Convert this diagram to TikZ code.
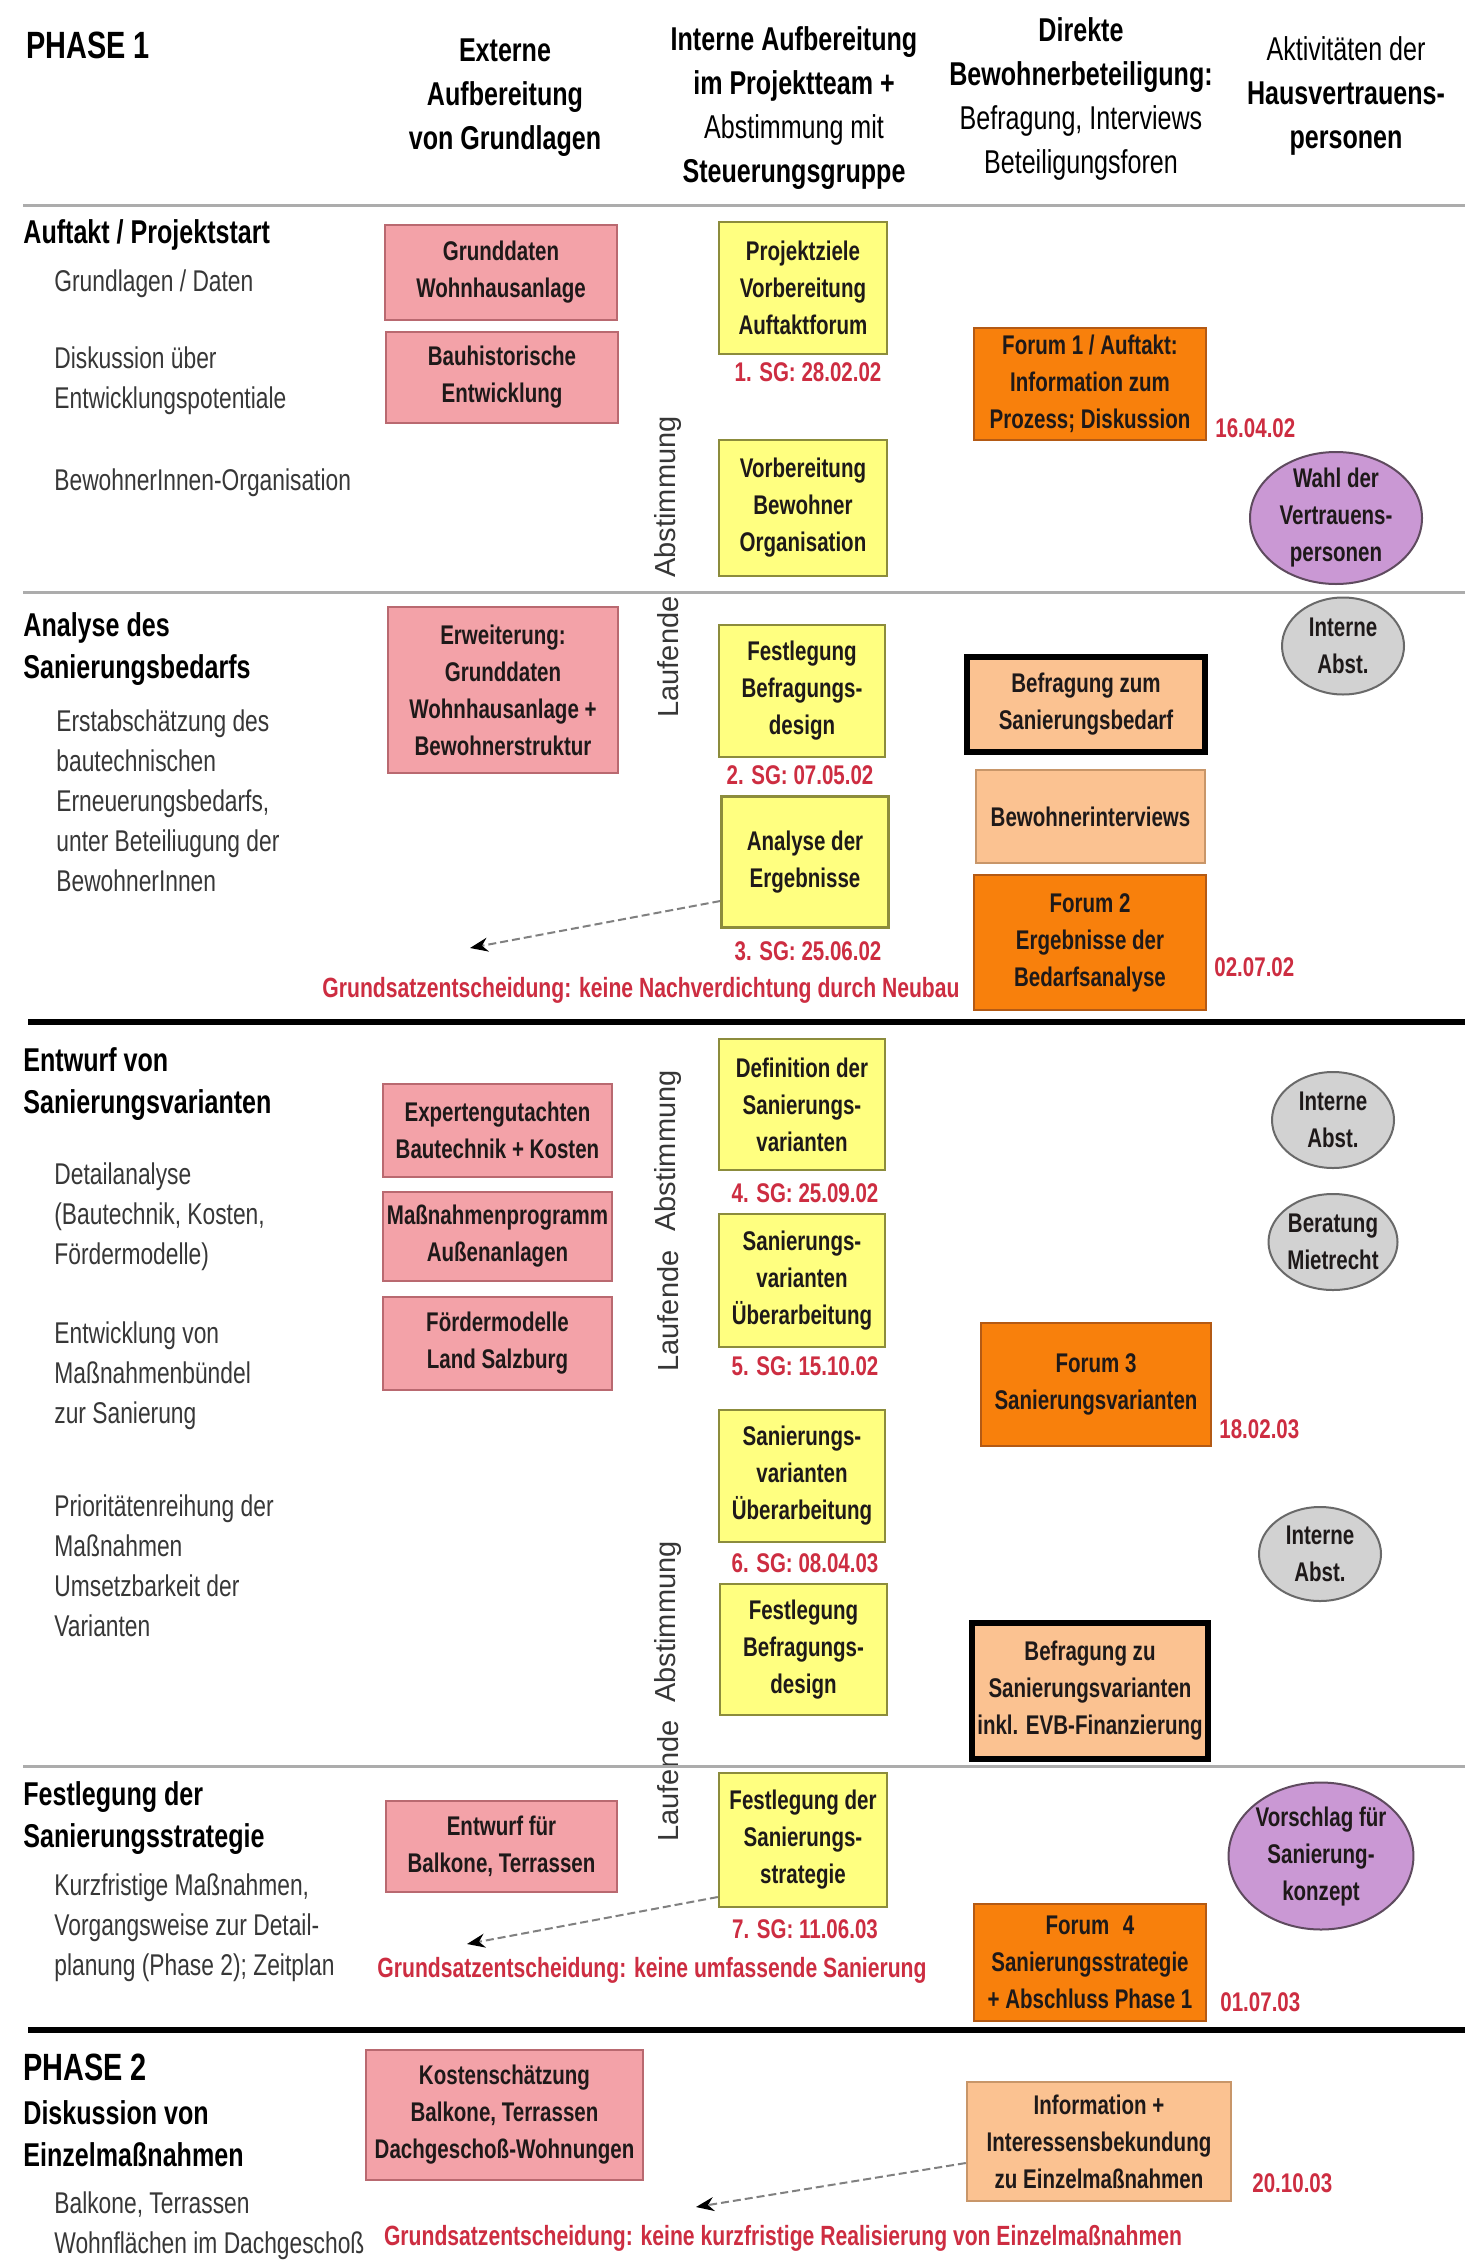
\documentclass[tikz,border=0pt]{standalone}
\usepackage{fontspec}
\setmainfont[FakeStretch=0.76]{Liberation Sans}
\newfontfamily\plainsans{Liberation Sans}
\usetikzlibrary{shapes.geometric,arrows.meta}
\definecolor{pinkf}{RGB}{243,162,168}
\definecolor{pinkd}{RGB}{185,105,112}
\definecolor{yelf}{RGB}{255,255,128}
\definecolor{yeld}{RGB}{140,140,60}
\definecolor{orf}{RGB}{248,128,12}
\definecolor{ord}{RGB}{180,90,20}
\definecolor{peachf}{RGB}{251,194,145}
\definecolor{peachd}{RGB}{200,150,105}
\definecolor{purpf}{RGB}{202,152,212}
\definecolor{purpd}{RGB}{95,75,95}
\definecolor{grayf}{RGB}{210,210,210}
\definecolor{grayd}{RGB}{105,105,105}
\definecolor{redc}{RGB}{205,45,65}
\definecolor{descc}{RGB}{55,55,55}
\definecolor{txtc}{RGB}{30,25,25}
\newcommand\boxfont{\bfseries\fontsize{13.5}{18.5}\selectfont}
\newcommand\decfont{\bfseries\fontsize{13.9}{18.5}\selectfont}
\newcommand\secfont{\bfseries\fontsize{16.5}{21}\selectfont}
\newcommand\descfont{\fontsize{15}{20}\selectfont}
\newcommand\hdrfont{\bfseries\fontsize{16.5}{22}\selectfont}
\newcommand\vertfont{\plainsans\fontsize{14.5}{17}\selectfont}
\tikzset{
  bx/.style={rectangle, inner sep=0pt, align=center, font=\boxfont, text=txtc},
  pinkb/.style={bx, fill=pinkf, draw=pinkd, line width=1.2pt},
  yelb/.style={bx, fill=yelf, draw=yeld, line width=1.2pt},
  orb/.style={bx, fill=orf, draw=ord, line width=1.2pt},
  peachb/.style={bx, fill=peachf, draw=peachd, line width=1.2pt},
  thickb/.style={bx, fill=peachf, draw=black, line width=2.6pt},
  ellbase/.style={ellipse, inner xsep=0pt, inner ysep=-4pt, align=center, font=\boxfont, text=txtc, line width=1pt},
  purpe/.style={ellbase, fill=purpf, draw=purpd},
  graye/.style={ellbase, fill=grayf, draw=grayd},
  sglab/.style={font=\boxfont, text=redc, inner sep=0pt},
  datelab/.style={font=\boxfont, text=redc, inner sep=0pt, anchor=west},
  sect/.style={anchor=west, align=left, font=\secfont, text=black, inner sep=0pt},
  desc/.style={anchor=west, align=left, font=\descfont, text=descc, inner sep=0pt},
  hdr/.style={align=center, font=\hdrfont, text=black, inner sep=0pt},
  vert/.style={rotate=90, font=\vertfont, text=descc, inner sep=0pt},
  decide/.style={-{Stealth[length=9pt,width=7pt,color=black]}, dash pattern=on 4pt off 2pt, draw=gray, line width=1pt},
  decision/.style={font=\decfont, text=redc, inner sep=0pt},
  sepgray/.style={draw=gray!65, line width=1.5pt},
  sepblack/.style={draw=black, line width=3pt},
}
\begin{document}
\begin{tikzpicture}[x=0.5pt,y=-0.5pt]
\path[use as bounding box, fill=white] (0,0) rectangle (1465,2264);

% ---------- header ----------
\node[anchor=west, font=\bfseries\fontsize{19}{22}\selectfont, inner sep=0pt] (ph1) at (26,45) {PHASE 1};
\node[hdr] (h1) at (505,98) {Externe\\Aufbereitung\\von Grundlagen};
\node[hdr] (h2) at (794,108) {Interne Aufbereitung\\im Projektteam +\\{\mdseries Abstimmung mit}\\Steuerungsgruppe};
\node[hdr] (h3) at (1081,99) {Direkte\\Bewohnerbeteiligung:\\{\mdseries Befragung, Interviews}\\{\mdseries Beteiligungsforen}};
\node[hdr] (h4) at (1346,96) {{\mdseries Aktivitäten der}\\Hausvertrauens-\\personen};
\draw[sepgray] (23,205) -- (1465,205);

% ---------- section 1 ----------
\node[sect] (s1) at (23,235) {Auftakt / Projektstart};
\node[desc] (d11) at (54,284) {Grundlagen / Daten};
\node[desc] (d12) at (54,381) {Diskussion über\\Entwicklungspotentiale};
\node[desc] (d13) at (54,483) {BewohnerInnen-Organisation};

\node[pinkb, minimum width=116pt, minimum height=47.5pt] (P1) at (501,272.5) {Grunddaten\\Wohnhausanlage};
\node[pinkb, minimum width=116pt, minimum height=45.5pt] (P2) at (502,377.5) {Bauhistorische\\Entwicklung};
\node[yelb, minimum width=84pt, minimum height=66pt] (Y1) at (803,288) {Projektziele\\Vorbereitung\\Auftaktforum};
\node[sglab] (SG1) at (808,372) {1. SG: 28.02.02};
\node[orb, minimum width=116pt, minimum height=56pt] (O1) at (1090,384) {Forum 1 / Auftakt:\\Information zum\\Prozess; Diskussion};
\node[datelab] (D1) at (1215,428) {16.04.02};
\node[yelb, minimum width=84pt, minimum height=68pt] (Y2) at (803,508) {Vorbereitung\\Bewohner\\Organisation};
\node[purpe, minimum width=86pt, minimum height=66pt] (E1) at (1336,518) {Wahl der\\Vertrauens-\\personen};
\node[vert] (V1a) at (668,497) {Abstimmung};
\node[vert] (V1b) at (668,657) {Laufende};
\draw[sepgray] (23,592) -- (1465,592);

% ---------- section 2 ----------
\node[sect] (s2) at (23,649) {Analyse des\\Sanierungsbedarfs};
\node[desc] (d21) at (56,801) {Erstabschätzung des\\bautechnischen\\Erneuerungsbedarfs,\\unter Beteiliugung der\\BewohnerInnen};
\node[pinkb, minimum width=115pt, minimum height=83pt] (P3) at (503,690) {Erweiterung:\\Grunddaten\\Wohnhausanlage +\\Bewohnerstruktur};
\node[yelb, minimum width=83pt, minimum height=66pt] (Y3) at (802,691) {Festlegung\\Befragungs-\\design};
\node[sglab] (SG2) at (800,775) {2. SG: 07.05.02};
\node[yelb, minimum width=83.5pt, minimum height=65.5pt] (Y4) at (805,862) {Analyse der\\Ergebnisse};
\node[sglab] (SG3) at (808,951) {3. SG: 25.06.02};
\node[graye, minimum width=61pt, minimum height=48.5pt] (E2) at (1343,646) {Interne\\Abst.};
\node[thickb, minimum width=119pt, minimum height=47.5pt] (B1) at (1086,704.5) {Befragung zum\\Sanierungsbedarf};
\node[peachb, minimum width=114.5pt, minimum height=46.5pt] (B2) at (1090.5,816.5) {Bewohnerinterviews};
\node[orb, minimum width=116pt, minimum height=67.5pt] (O2) at (1090,942.5) {Forum 2\\Ergebnisse der\\Bedarfsanalyse};
\node[datelab] (D2) at (1214,967) {02.07.02};
\coordinate (a1e) at (470,948);
\draw[decide] ([yshift=-19.5pt]Y4.west) -- (a1e);
\node[decision] (G1) at (641,990) {Grundsatzentscheidung: keine Nachverdichtung durch Neubau};
\draw[sepblack] (28,1022) -- (1465,1022);

% ---------- section 3 ----------
\node[sect] (s3) at (23,1084) {Entwurf von\\Sanierungsvarianten};
\node[desc] (d31) at (54,1217) {Detailanalyse\\(Bautechnik, Kosten,\\Fördermodelle)};
\node[desc] (d32) at (54,1376) {Entwicklung von\\Maßnahmenbündel\\zur Sanierung};
\node[desc] (d33) at (54,1566) {Prioritätenreihung der\\Maßnahmen\\Umsetzbarkeit der\\Varianten};
\node[pinkb, minimum width=114.5pt, minimum height=46.5pt] (P4) at (497.5,1130.5) {Expertengutachten\\Bautechnik + Kosten};
\node[pinkb, minimum width=114.5pt, minimum height=44.5pt] (P5) at (497.5,1236.5) {Maßnahmenprogramm\\Außenanlagen};
\node[pinkb, minimum width=114.5pt, minimum height=46.5pt] (P6) at (497.5,1343.5) {Fördermodelle\\Land Salzburg};
\node[yelb, minimum width=83pt, minimum height=65.5pt] (Y5) at (802,1104.5) {Definition der\\Sanierungs-\\varianten};
\node[sglab] (SG4) at (805,1193) {4. SG: 25.09.02};
\node[yelb, minimum width=83pt, minimum height=66.5pt] (Y6) at (802,1280.5) {Sanierungs-\\varianten\\Überarbeitung};
\node[sglab] (SG5) at (805,1366) {5. SG: 15.10.02};
\node[yelb, minimum width=83pt, minimum height=66pt] (Y7) at (802,1476) {Sanierungs-\\varianten\\Überarbeitung};
\node[sglab] (SG6) at (805,1563) {6. SG: 08.04.03};
\node[yelb, minimum width=83.5pt, minimum height=65.5pt] (Y8) at (803.5,1649.5) {Festlegung\\Befragungs-\\design};
\node[vert] (V2a) at (668,1151) {Abstimmung};
\node[vert] (V2b) at (668,1311) {Laufende};
\node[vert] (V3a) at (668,1622) {Abstimmung};
\node[vert] (V3b) at (668,1781) {Laufende};
\node[graye, minimum width=61pt, minimum height=48pt] (E3) at (1333,1120) {Interne\\Abst.};
\node[graye, minimum width=61pt, minimum height=48pt] (E4) at (1333,1242) {Beratung\\Mietrecht};
\node[orb, minimum width=115pt, minimum height=61.5pt] (O3) at (1096,1384.5) {Forum 3\\Sanierungsvarianten};
\node[datelab] (D3) at (1219,1429) {18.02.03};
\node[graye, minimum width=61pt, minimum height=47pt] (E5) at (1320,1554) {Interne\\Abst.};
\node[thickb, minimum width=118pt, minimum height=68pt] (B3) at (1090,1691) {Befragung zu\\Sanierungsvarianten\\inkl. EVB-Finanzierung};
\draw[sepgray] (23,1766) -- (1465,1766);

% ---------- section 4 ----------
\node[sect] (s4) at (23,1818) {Festlegung der\\Sanierungsstrategie};
\node[desc] (d41) at (54,1928) {Kurzfristige Maßnahmen,\\Vorgangsweise zur Detail-\\planung (Phase 2); Zeitplan};
\node[pinkb, minimum width=115.5pt, minimum height=45.5pt] (P7) at (501.5,1846.5) {Entwurf für\\Balkone, Terrassen};
\node[yelb, minimum width=84pt, minimum height=67pt] (Y9) at (803,1840) {Festlegung der\\Sanierungs-\\strategie};
\node[sglab] (SG7) at (805,1929) {7. SG: 11.06.03};
\node[purpe, minimum width=91.5pt, minimum height=73.5pt] (E6) at (1321,1856) {Vorschlag für\\Sanierung-\\konzept};
\node[orb, minimum width=116pt, minimum height=58.5pt] (O4) at (1090,1962.5) {Forum\enspace 4\\Sanierungsstrategie\\+ Abschluss Phase 1};
\node[datelab] (D4) at (1220,2002) {01.07.03};
\coordinate (a2e) at (467,1944);
\draw[decide] ([yshift=-28.5pt]Y9.west) -- (a2e);
\node[decision] (G2) at (652,1970) {Grundsatzentscheidung: keine umfassende Sanierung};
\draw[sepblack] (28,2030) -- (1465,2030);

% ---------- phase 2 ----------
\node[anchor=west, font=\bfseries\fontsize{19}{22}\selectfont, inner sep=0pt] (ph2) at (23,2067) {PHASE 2};
\node[sect] (s5) at (23,2134) {Diskussion von\\Einzelmaßnahmen};
\node[desc] (d51) at (54,2226) {Balkone, Terrassen\\Wohnflächen im Dachgeschoß};
\node[pinkb, minimum width=138.5pt, minimum height=65pt] (P8) at (504.5,2115) {Kostenschätzung\\Balkone, Terrassen\\Dachgeschoß-Wohnungen};
\node[peachb, minimum width=132pt, minimum height=59.5pt] (B4) at (1099,2141.5) {Information +\\Interessensbekundung\\zu Einzelmaßnahmen};
\node[datelab] (D5) at (1252,2183) {20.10.03};
\coordinate (a3e) at (696,2207);
\draw[decide] ([yshift=-10.75pt]B4.west) -- (a3e);
\node[decision] (G3) at (783,2238) {Grundsatzentscheidung: keine kurzfristige Realisierung von Einzelmaßnahmen};
\end{tikzpicture}
\end{document}
